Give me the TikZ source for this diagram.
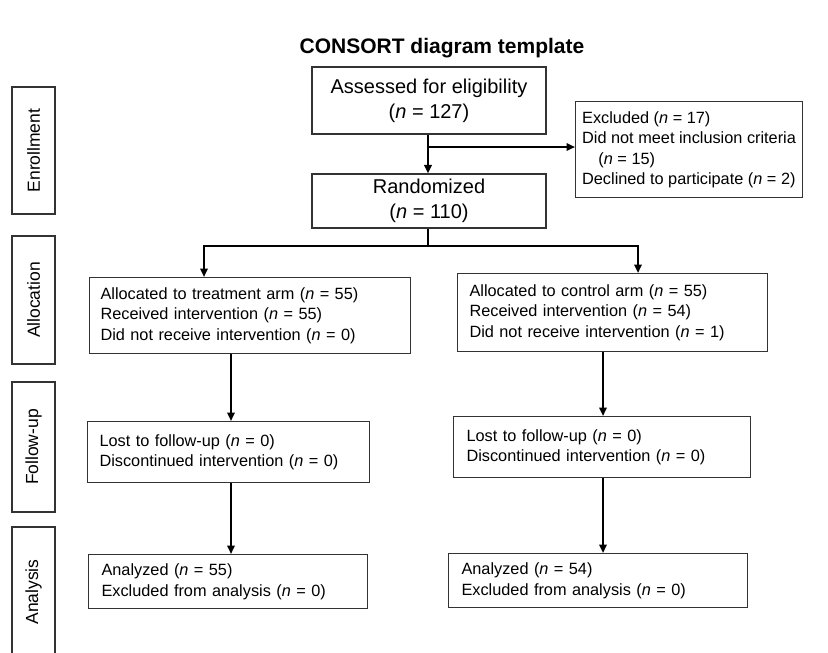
\documentclass[tikz,border=0pt]{standalone}
\usepackage{fontspec}
\setmainfont{Liberation Sans}
\usetikzlibrary{arrows.meta}
\def\nval#1{(\textit{n} = #1)}
\hyphenpenalty=10000

\tikzset{
	every picture/.style={x=1pt, y=-1pt},
	stagebox/.style={draw=black!80, line width=1.1pt, rotate=90, minimum height=43pt, inner sep=0pt, font=\fontsize{17.5}{20}\selectfont},
	mainbox/.style={draw=black!80, line width=1.1pt, align=center, inner sep=0pt, font=\fontsize{20}{25}\selectfont},
	armbox/.style={draw=black!80, line width=1.1pt, anchor=north west, align=left, inner ysep=0pt, font=\fontsize{16.3}{20.5}\selectfont},
	flow/.style={line width=2.2pt, -{Triangle[length=8.5pt,width=7.5pt]}},
	flowline/.style={line width=2.2pt}
}

\begin{document}
\begin{tikzpicture}
			%%%%% START %%%%%
			\useasboundingbox[fill=white] (0,0) rectangle (828,653);
			
			\node[font=\bfseries\fontsize{21}{25}\selectfont] (title) at (442,48) {CONSORT diagram template};
			
			% stages on the left
			\node[stagebox, minimum width=127pt] (enrol) at (33.5,150.5) {Enrollment};
			\node[stagebox, minimum width=128pt] (alloc) at (33.5,300) {Allocation};
			\node[stagebox, minimum width=130pt] (follow) at (33.5,447) {Follow-up};
			\node[stagebox, minimum width=130pt] (anal) at (33.5,592) {Analysis};
			
			% enrollment
			\node[mainbox, minimum width=234pt, minimum height=67pt] (assess) at (429,100.5) {Assessed for eligibility\\\nval{127}};
			\node[mainbox, minimum width=234pt, minimum height=54pt] (rand) at (429,201) {Randomized\\\nval{110}};
			\node[armbox, inner xsep=4pt, minimum width=227pt, minimum height=96pt] (excl) at (575,101) {Excluded \nval{17}\\Did not meet inclusion criteria\\\hspace*{1em}\nval{15}\\Declined to participate \nval{2}};
			
			% allocation
			\node[armbox, inner xsep=11pt, text width=299pt, minimum height=76pt] (treat) at (89,277) {Allocated to treatment arm \nval{55}\\Received intervention \nval{55}\\Did not receive intervention \nval{0}};
			\node[armbox, inner xsep=12pt, text width=286pt, minimum height=78pt] (ctrl) at (457,273) {Allocated to control arm \nval{55}\\Received intervention \nval{54}\\Did not receive intervention \nval{1}};
			
			% follow-up
			\node[armbox, inner xsep=12pt, text width=258pt, minimum height=61pt] (lostL) at (87,421) {Lost to follow-up \nval{0}\\Discontinued intervention \nval{0}};
			\node[armbox, inner xsep=13pt, text width=271pt, minimum height=61pt] (lostR) at (453,416) {Lost to follow-up \nval{0}\\Discontinued intervention \nval{0}};
			
			% analysis
			\node[armbox, inner xsep=13pt, text width=253pt, minimum height=54pt] (doneL) at (88,554) {Analyzed \nval{55}\\Excluded from analysis \nval{0}};
			\node[armbox, inner xsep=13pt, text width=273pt, minimum height=54pt] (doneR) at (448,553) {Analyzed \nval{54}\\Excluded from analysis \nval{0}};
			
			% connectors
			\coordinate (cut) at (428,147);
			\coordinate (split) at (428,246);
			\coordinate (armL) at (204,246);
			\coordinate (armR) at (638,246);
			\coordinate (colL) at (231,0);
			\coordinate (colR) at (603,0);
			
			\draw[flow] (assess.south -| cut) -- (rand.north -| cut);
			\draw[flow] (cut) -- (cut -| excl.west);
			\draw[flowline] (rand.south -| split) -- (split);
			\draw[flow] (split) -| (armL |- treat.north);
			\draw[flow] (split) -| (armR |- ctrl.north);
			
			\draw[flow] (treat.south -| colL) -- (lostL.north -| colL);
			\draw[flow] (lostL.south -| colL) -- (doneL.north -| colL);
			\draw[flow] (ctrl.south -| colR) -- (lostR.north -| colR);
			\draw[flow] (lostR.south -| colR) -- (doneR.north -| colR);
			
			%%%%% END %%%%%
\end{tikzpicture}
\end{document}
